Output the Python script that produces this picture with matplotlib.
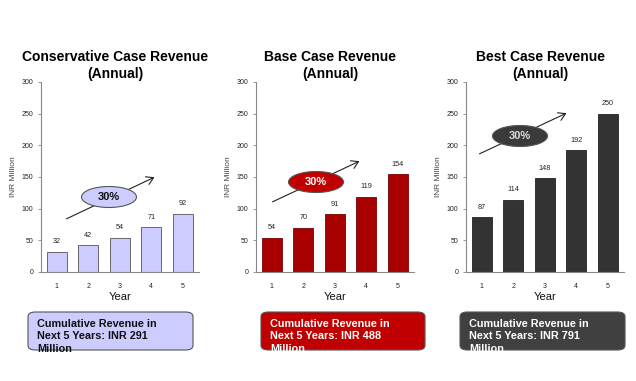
import numpy as np
import matplotlib
matplotlib.use("Agg")
import matplotlib.pyplot as plt
from matplotlib.patches import Ellipse, FancyBboxPatch, FancyArrowPatch

plt.rcParams['font.family'] = ['Liberation Sans', 'DejaVu Sans']

years = [1, 2, 3, 4, 5]
titles = ["Conservative Case Revenue\n(Annual)", "Base Case Revenue\n(Annual)", "Best Case Revenue\n(Annual)"]
conservative = [32, 42, 54, 71, 92]
base = [54, 70, 91, 119, 154]
best = [87, 114, 148, 192, 250]
cumulative = [291, 488, 791]
growth = "30%"

W, H = 636, 381
fig = plt.figure(figsize=(W / 100, H / 100), dpi=100)

def fx(x):
    return x / W

def fy(y):
    return 1 - y / H

series = [conservative, base, best]
bar_col = ["#ccccff", "#a80000", "#333333"]
bar_edge = ["#555555", "#7a0000", "#222222"]
ell_col = ["#ccccff", "#c00000", "#3a3a3a"]
ell_txt = ["#111111", "white", "#dddddd"]
box_col = ["#ccccff", "#c00000", "#404040"]
box_txt = ["#111111", "white", "white"]
ax_left = [41, 256, 466]
# arrow start, arrow end, ellipse centre (pixels)
arrows = [((64, 220), (157, 176), (109, 197)),
          ((270, 203), (362, 160), (316, 182)),
          ((477, 155), (569, 112), (520, 136))]
boxes = [(28, 193), (261, 425), (460, 625)]

for i in range(3):
    ax = fig.add_axes([fx(ax_left[i]), fy(272), 157.5 / W, 190 / H])
    ax.bar(years, series[i], width=0.63, color=bar_col[i], edgecolor=bar_edge[i], linewidth=0.6)
    for x, v in zip(years, series[i]):
        ax.text(x, v + 10, str(v), ha='center', va='bottom', fontsize=5.2, color='#222222')
    ax.set_xlim(0.5, 5.5)
    ax.set_ylim(0, 300)
    ax.set_yticks(range(0, 301, 50))
    ax.set_xticks(years)
    ax.tick_params(axis='y', labelsize=5, length=2.5, width=0.6, colors='#888888', labelcolor='#222222', pad=3)
    ax.tick_params(axis='x', labelsize=5, length=0, labelcolor='#222222', pad=8)
    for s in ['top', 'right']:
        ax.spines[s].set_visible(False)
    for s in ['left', 'bottom']:
        ax.spines[s].set_color('#888888')
        ax.spines[s].set_linewidth(0.8)
    ax.set_ylabel("INR Million", fontsize=6, color='#444444', labelpad=3)
    ax.set_xlabel("Year", fontsize=8, color='#111111', labelpad=1)
    ax.set_title(titles[i], fontsize=10, fontweight='bold', pad=3, linespacing=1.3, x=0.47)

    (x0, y0), (x1, y1), (cx, cy) = arrows[i]
    fig.add_artist(FancyArrowPatch((fx(x0), fy(y0)), (fx(x1), fy(y1)),
                                   transform=fig.transFigure, arrowstyle='->,head_length=5,head_width=3',
                                   color='#222222', lw=0.8))
    e = Ellipse((fx(cx), fy(cy)), 55 / W, 21 / H, transform=fig.transFigure,
                facecolor=ell_col[i], edgecolor='#555555', lw=0.8, zorder=5)
    fig.add_artist(e)
    fig.text(fx(cx), fy(cy), growth, ha='center', va='center', fontsize=8, fontweight='bold',
             color=ell_txt[i], zorder=6)

    bx0, bx1 = boxes[i]
    box = FancyBboxPatch((fx(bx0), fy(350)), fx(bx1 - bx0), 38 / H, transform=fig.transFigure,
                         boxstyle='round,pad=0,rounding_size=0.012', facecolor=box_col[i],
                         edgecolor='#555555', lw=0.8)
    fig.add_artist(box)
    fig.text(fx(bx0 + 9), fy(319), "Cumulative Revenue in\nNext 5 Years: INR %d\nMillion" % cumulative[i],
             ha='left', va='top', fontsize=7.8, fontweight='bold', color=box_txt[i],
             linespacing=1.3)

fig.savefig("out.png", dpi=100)
